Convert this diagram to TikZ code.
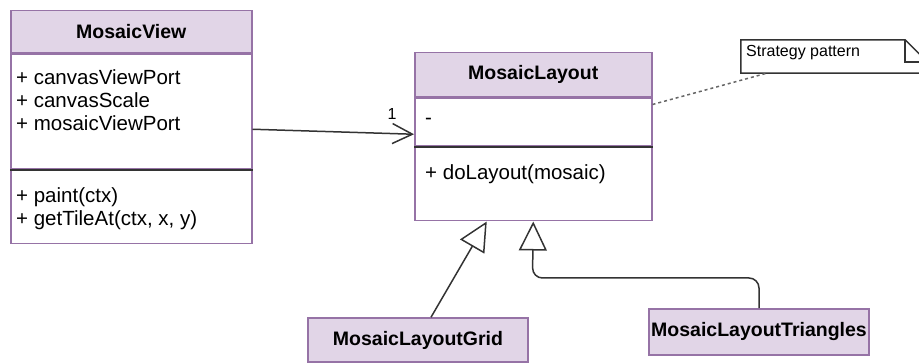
\documentclass[tikz,border=0pt]{standalone}
\usepackage{fontspec}
\setmainfont{Liberation Sans}
\usetikzlibrary{arrows.meta,calc}
\definecolor{umlfill}{HTML}{E1D5E7}
\definecolor{umlline}{HTML}{9673A6}
\tikzset{
	hdr/.style={draw=umlline, fill=umlfill, line width=1.5pt, inner sep=0pt, font=\fontsize{19.5}{23}\selectfont\bfseries},
	comp/.style={draw=umlline, fill=white, line width=1.5pt, inner sep=0pt},
	members/.style={inner sep=0pt, align=left, font=\fontsize{20.5}{23}\selectfont},
	sep/.style={draw=black!80, line width=1.5pt},
	assoc/.style={draw=black!80, line width=1.5pt, -{Straight Barb[length=20pt, width=20pt]}},
	inherit/.style={draw=black!80, line width=1.5pt, -{Triangle[open, length=29pt, width=28pt]}},
	notebox/.style={draw=black!80, line width=1.5pt}
}

\begin{document}
\begin{tikzpicture}[x=1pt, y=-1pt]
			%%%%% START %%%%%
			\useasboundingbox (0, 0) rectangle (919, 363);
			
			% MosaicView
			\node[hdr, minimum width=241pt, minimum height=42pt, anchor=north west] (viewhead) at (10, 10) {MosaicView};
			\node[comp, minimum width=241pt, minimum height=115pt, anchor=north] (viewattr) at (viewhead.south) {};
			\node[comp, minimum width=241pt, minimum height=73pt, anchor=north] (viewmeth) at (viewattr.south) {};
			\draw[sep] (viewmeth.north west) -- (viewmeth.north east);
			\node[members, anchor=north west] (viewattrtext) at (16, 69) {+ canvasViewPort\\+ canvasScale\\+ mosaicViewPort};
			\node[members, anchor=north west] (viewmethtext) at (16, 187) {+ paint(ctx)\\+ getTileAt(ctx, x, y)};
			
			% MosaicLayout
			\node[hdr, minimum width=237pt, minimum height=44pt, anchor=north west] (layouthead) at (414, 52) {MosaicLayout};
			\node[comp, minimum width=237pt, minimum height=48pt, anchor=north] (layoutattr) at (layouthead.south) {};
			\node[comp, minimum width=237pt, minimum height=73pt, anchor=north] (layoutmeth) at (layoutattr.south) {};
			\draw[sep] (layoutmeth.north west) -- (layoutmeth.north east);
			\node[members, anchor=base west] (layoutattrtext) at (425, 125) {-};
			\node[members, anchor=base west] (layoutmethtext) at (425, 180) {+ doLayout(mosaic)};
			
			% subclasses
			\node[hdr, minimum width=220pt, minimum height=44pt] (grid) at (418, 340) {MosaicLayoutGrid};
			\node[hdr, minimum width=220pt, minimum height=46pt] (tri) at (759, 332) {MosaicLayoutTriangles};
			
			% note
			\node[minimum width=186pt, minimum height=33pt, inner sep=0pt] (note) at (834, 56.5) {};
			\begin{scope}
				\clip (0, 0) rectangle (919, 363);
				\draw[notebox] (note.south west) -- (note.north west) -- ([xshift=-22pt]note.north east) -- ([yshift=-22pt]note.north east) -- (note.south east) -- cycle;
				\draw[notebox] ([xshift=-22pt]note.north east) |- ([yshift=-22pt]note.north east);
			\end{scope}
			\node[anchor=west, inner sep=0pt, font=\fontsize{16}{19}\selectfont] (notetext) at (746, 53) {Strategy pattern};
			
			% connectors
			\draw[assoc] ([yshift=-17.5pt]viewattr.east) -- ([yshift=-12pt]layoutattr.west);
			\node[font=\fontsize{16}{19}\selectfont, inner sep=0pt] (mult) at (392, 114) {1};
			
			\draw[notebox, draw=black!60, dash pattern=on 3pt off 3pt] ([yshift=-7pt]layoutattr.north east) -- ([xshift=26pt]note.south west);
			
			\draw[inherit] ([xshift=13pt]grid.north) -- ([xshift=-46.5pt]layoutmeth.south);
			\coordinate (elbow) at (532.5, 278);
			\draw[inherit, rounded corners=10pt] (tri.north) |- (elbow) -- (layoutmeth.south);
			
			%%%%% END %%%%%
\end{tikzpicture}
\end{document}
